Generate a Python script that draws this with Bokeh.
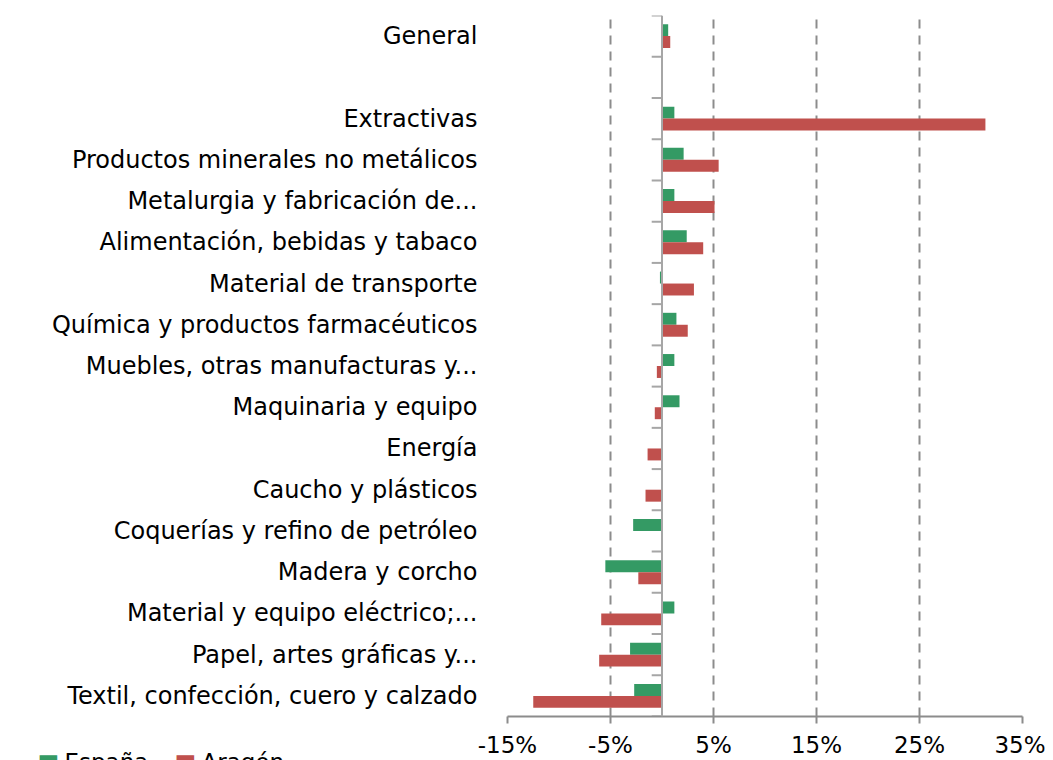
from bokeh.plotting import figure
from bokeh.models import (ColumnDataSource, FactorRange, FixedTicker, PrintfTickFormatter,
                          Span, Title)
from bokeh.transform import dodge
from bokeh.embed import file_html
from bokeh.resources import INLINE
import math

nan = float("nan")

categories = ["General", " ", "Extractivas", "Productos minerales no metálicos",
              "Metalurgia y fabricación de...", "Alimentación, bebidas y tabaco",
              "Material de transporte", "Química y productos farmacéuticos",
              "Muebles, otras manufacturas y...", "Maquinaria y equipo", "Energía",
              "Caucho y plásticos", "Coquerías y refino de petróleo", "Madera y corcho",
              "Material y equipo eléctrico;...", "Papel, artes gráficas y...",
              "Textil, confección, cuero y calzado"]
espana = [0.6, nan, 1.2, 2.1, 1.2, 2.4, -0.2, 1.4, 1.2, 1.7, -0.05, 0.0, -2.8, -5.5, 1.2, -3.1, -2.7]
aragon = [0.8, nan, 31.4, 5.5, 5.1, 4.0, 3.1, 2.5, -0.5, -0.7, -1.4, -1.6, 0.0, -2.3, -5.9, -6.1, -12.5]
x_ticks = [-15, -5, 5, 15, 25, 35]
series_names = ["España", "Aragón"]

GREEN = "#349A64"
RED = "#C0504D"
GRAY = "#8C8C8C"
FONT = "DejaVu Sans"

src = ColumnDataSource(dict(
    cat=[c for c, v in zip(categories, espana) if not math.isnan(v)],
    esp=[v for v in espana if not math.isnan(v)],
    ara=[v for v in aragon if not math.isnan(v)],
))

p = figure(width=1045, height=760, output_backend="svg", toolbar_location=None,
           y_range=FactorRange(factors=list(reversed(categories)), range_padding=0),
           x_range=(x_ticks[0], x_ticks[-1]),
           min_border_left=507, min_border_right=23, min_border_top=15, min_border_bottom=42)
p.outline_line_color = None
p.background_fill_color = "white"

r_esp = p.hbar(y=dodge("cat", 0.145, range=p.y_range), left=0, right="esp", height=0.29,
               source=src, fill_color=GREEN, line_color=None)
r_ara = p.hbar(y=dodge("cat", -0.145, range=p.y_range), left=0, right="ara", height=0.29,
               source=src, fill_color=RED, line_color=None)

# zero axis with category boundary ticks
p.add_layout(Span(location=0, dimension="height", line_color="#A6A6A6", line_width=2))
bsrc = ColumnDataSource(dict(cat=categories, x0=[-1.0] * len(categories), x1=[0.0] * len(categories)))
p.segment(x0="x0", x1="x1", y0=dodge("cat", 0.5, range=p.y_range), y1=dodge("cat", 0.5, range=p.y_range),
          source=bsrc, line_color="#A6A6A6", line_width=2)
lsrc = ColumnDataSource(dict(cat=[categories[-1]], x0=[-1.0], x1=[0.0]))
p.segment(x0="x0", x1="x1", y0=dodge("cat", -0.5, range=p.y_range), y1=dodge("cat", -0.5, range=p.y_range),
          source=lsrc, line_color="#A6A6A6", line_width=2)

# x axis
p.xaxis.ticker = FixedTicker(ticks=x_ticks)
p.xaxis.formatter = PrintfTickFormatter(format="%d%%")
p.xaxis.axis_line_color = GRAY
p.xaxis.axis_line_width = 2
p.xaxis.major_tick_line_color = GRAY
p.xaxis.major_tick_line_width = 2
p.xaxis.major_tick_out = 7
p.xaxis.major_tick_in = 0
p.xaxis.minor_tick_line_color = None
p.xaxis.major_label_text_font = FONT
p.xaxis.major_label_text_font_size = "23px"
p.xaxis.major_label_text_color = "black"
p.xaxis.major_label_standoff = 8

p.xgrid.ticker = FixedTicker(ticks=x_ticks)
p.xgrid.grid_line_color = GRAY
p.xgrid.grid_line_width = 2
p.xgrid.grid_line_dash = "9 7"
p.ygrid.grid_line_color = None

# y axis labels
p.yaxis.axis_line_color = None
p.yaxis.major_tick_line_color = None
p.yaxis.minor_tick_line_color = None
p.yaxis.major_label_standoff = 24
p.yaxis.major_label_text_font = FONT
p.yaxis.major_label_text_font_size = "24px"
p.yaxis.major_label_text_color = "black"

# legend: zero-height titles in the panel below the axis (the trailing line
# break lifts the visible line up to the row of the tick labels)
for name, color, x0 in [(series_names[0], GREEN, -470), (series_names[1], RED, -333)]:
    p.add_layout(Title(text="\u25A0\n", align="left", offset=x0, standoff=-80,
                       text_font=FONT, text_font_size="23px",
                       text_font_style="normal", text_color=color), "below")
    p.add_layout(Title(text=name + "\n", align="left", offset=x0 + 27, standoff=-80,
                       text_font=FONT, text_font_size="23px",
                       text_font_style="normal", text_color="black"), "below")

open("out.html", "w").write(file_html(p, INLINE))
